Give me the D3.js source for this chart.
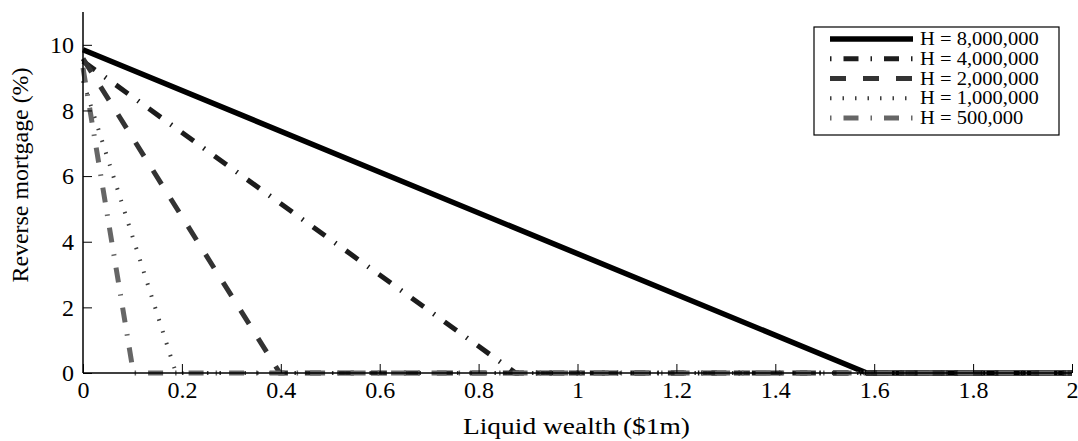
<!DOCTYPE html>
<html>
<head>
<meta charset="utf-8">
<script src="https://cdn.jsdelivr.net/npm/d3@7"></script>
<style>
  body { margin: 0; background: #fff; }
  svg { display: block; }
  text { font-family: "Liberation Serif", "Times New Roman", serif; fill: #000; }
</style>
</head>
<body>
<svg id="chart" width="1078" height="441"></svg>
<script>
// ---- data ----
const seriesNames = ["H = 8,000,000", "H = 4,000,000", "H = 2,000,000", "H = 1,000,000", "H = 500,000"];
// liquid wealth ($1m) points for each series
const xH8m = [0, 1.585, 2];
const yH8m = [9.85, 0, 0];
const xH4m = [0, 0.875, 2];
const yH4m = [9.5, 0, 0];
const xH2m = [0, 0.398, 2];
const yH2m = [9.58, 0, 0];
const xH1m = [0, 0.188, 2];
const yH1m = [8.9, 0, 0];
const xH500k = [0, 0.102, 2];
const yH500k = [9.3, 0, 0];
const xTicks = [0, 0.2, 0.4, 0.6, 0.8, 1, 1.2, 1.4, 1.6, 1.8, 2];
const yTicks = [0, 2, 4, 6, 8, 10];

const seriesX = [xH8m, xH4m, xH2m, xH1m, xH500k];
const seriesY = [yH8m, yH4m, yH2m, yH1m, yH500k];
const styles = [
  { color: "#000000", width: 5.5, dash: null, legendOffset: 0 },
  { color: "#1c1c1c", width: 5, dash: "15,12,1.5,12", legendOffset: 27 },
  { color: "#333333", width: 5, dash: "16,17", legendOffset: 0 },
  { color: "#3c3c3c", width: 4.0, dash: "1.5,11", legendOffset: 0 },
  { color: "#666666", width: 5, dash: "15,12,1.5,12", legendOffset: 27 }
];

const svg = d3.select("#chart");
const L = 83, R = 1072, T = 12, B = 373;
const x = d3.scaleLinear().domain([0, 2]).range([L, R]);
const y = d3.scaleLinear().domain([0, 11]).range([B, T]);

const line = d3.line().x(d => x(d[0])).y(d => y(d[1]));

const plot = svg.append("g");
seriesX.forEach((xs, i) => {
  const pts = xs.map((v, j) => [v, seriesY[i][j]]);
  plot.append("path")
    .attr("d", line(pts))
    .attr("fill", "none")
    .attr("stroke", styles[i].color)
    .attr("stroke-width", styles[i].width)
    .attr("stroke-linecap", "butt")
    .attr("stroke-linejoin", "miter")
    .attr("stroke-dasharray", styles[i].dash);
});

// axes
const xAxis = d3.axisBottom(x).tickValues(xTicks).tickSize(-9).tickPadding(14)
  .tickFormat(d => d3.format("")(+d.toFixed(1)));
const gx = svg.append("g").attr("transform", `translate(0,${B})`).call(xAxis);
gx.select(".domain").attr("stroke", "#000").attr("stroke-width", 1.5).attr("d", `M${L},0H${R}`);
gx.selectAll(".tick line").attr("stroke", "#000").attr("stroke-width", 1);
gx.selectAll(".tick text").attr("font-size", 24).attr("dy", "0.71em").attr("y", 8);

const yAxis = d3.axisLeft(y).tickValues(yTicks).tickSize(-9).tickPadding(10);
const gy = svg.append("g").attr("transform", `translate(${L},0)`).call(yAxis);
gy.select(".domain").attr("stroke", "#000").attr("stroke-width", 1.5).attr("d", `M0,${T}V${B}`);
gy.selectAll(".tick line").attr("stroke", "#000").attr("stroke-width", 1);
gy.selectAll(".tick text").attr("font-size", 24).attr("x", -9);

// titles
svg.append("text")
  .attr("x", (463 + 690) / 2).attr("y", 434)
  .attr("text-anchor", "middle").attr("font-size", 23)
  .attr("textLength", 227).attr("lengthAdjust", "spacingAndGlyphs")
  .text("Liquid wealth ($1m)");
svg.append("text")
  .attr("transform", `translate(28,175) rotate(-90)`)
  .attr("text-anchor", "middle").attr("font-size", 23)
  .attr("textLength", 215).attr("lengthAdjust", "spacingAndGlyphs")
  .text("Reverse mortgage (%)");

// legend
const lg = svg.append("g");
lg.append("rect").attr("x", 814).attr("y", 27).attr("width", 245).attr("height", 108)
  .attr("fill", "#fff").attr("stroke", "#000").attr("stroke-width", 1.2);
const rowY = d3.scaleLinear().domain([0, 4]).range([39, 118]);
seriesNames.forEach((name, i) => {
  const yy = rowY(i);
  lg.append("line").attr("x1", 830).attr("x2", 913).attr("y1", yy).attr("y2", yy)
    .attr("stroke", styles[i].color).attr("stroke-width", styles[i].width)
    .attr("stroke-dasharray", styles[i].dash)
    .attr("stroke-dashoffset", styles[i].legendOffset);
  const t = lg.append("text").attr("x", 920).attr("y", yy + 6).attr("font-size", 18).text(name);
  const w = t.node().getComputedTextLength();
  t.attr("textLength", w * 1.14).attr("lengthAdjust", "spacingAndGlyphs");
});
</script>
</body>
</html>
